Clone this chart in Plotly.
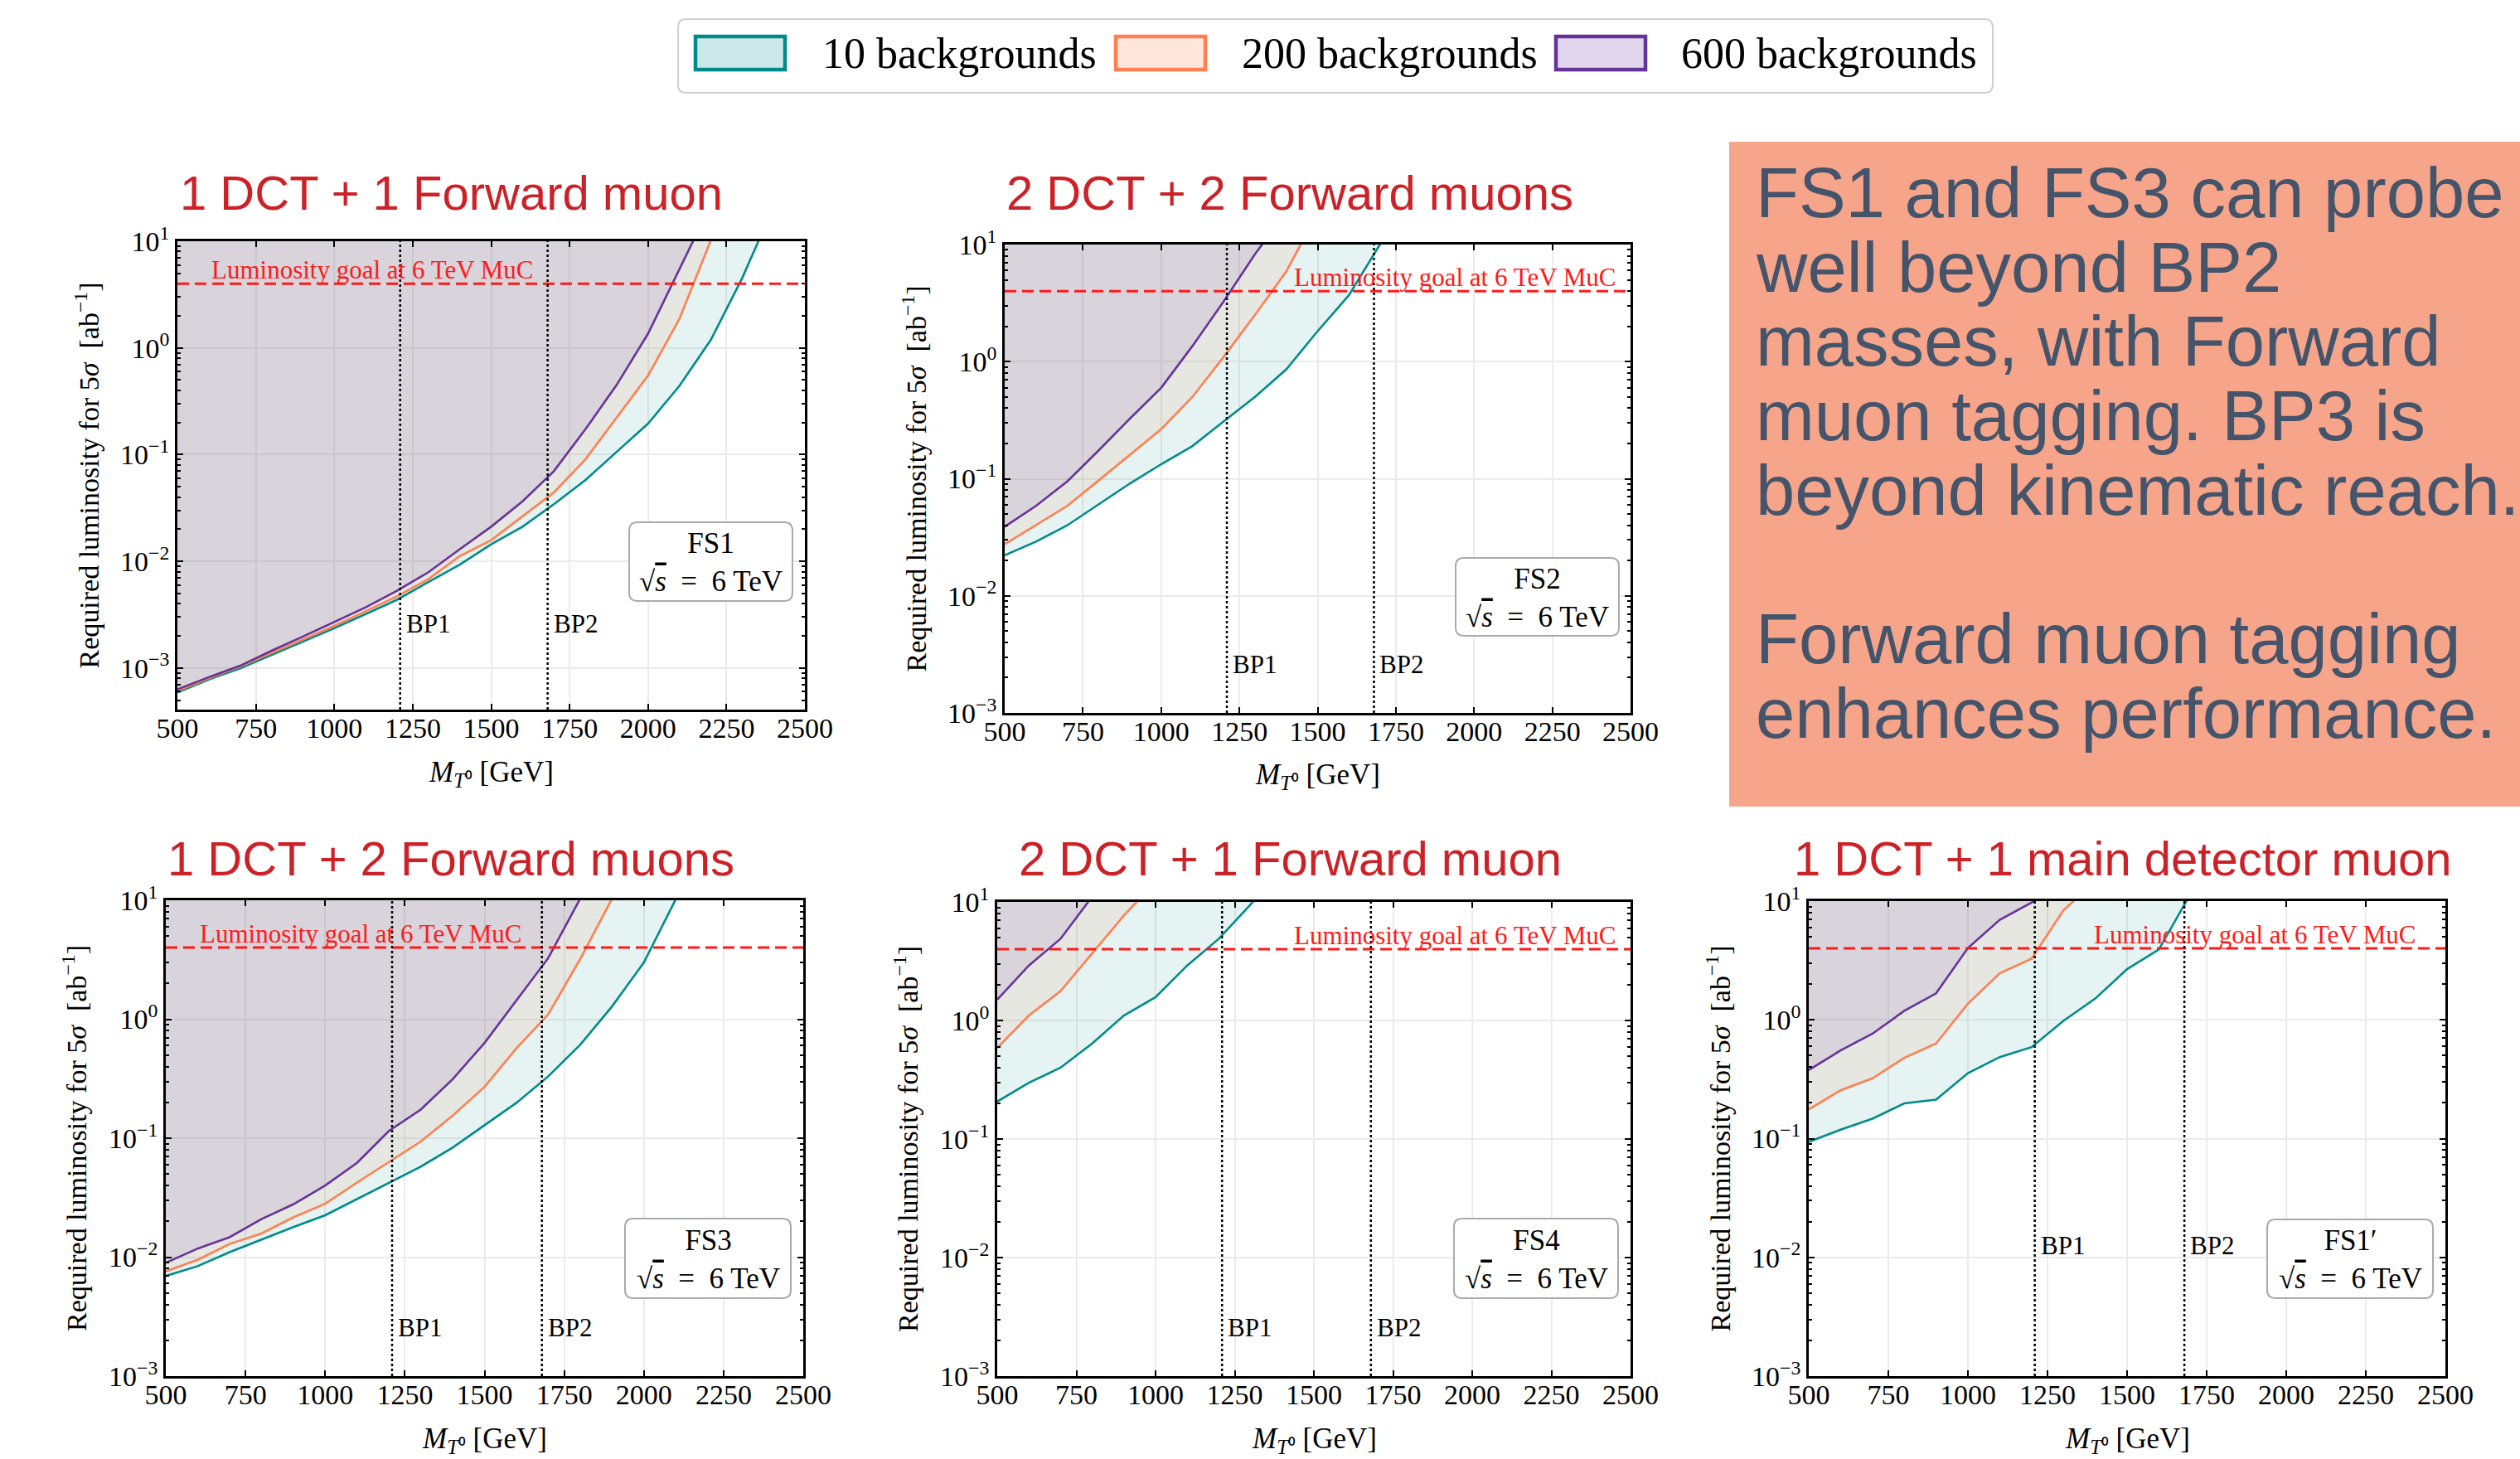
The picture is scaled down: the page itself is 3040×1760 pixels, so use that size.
import math
import plotly.graph_objects as go

W, H = 3040, 1760

# ---------------- data ----------------
SERIES_NAMES = ["10 backgrounds", "200 backgrounds", "600 backgrounds"]

FS1_MASS = [500, 600, 700, 800, 900, 1000, 1100, 1200, 1300, 1400, 1500, 1600, 1700, 1800, 1900, 2000, 2100, 2200, 2300, 2400]
FS1_B10 = [5.9e-4, 7.8e-4, 9.9e-4, 1.32e-3, 1.76e-3, 2.36e-3, 3.2e-3, 4.36e-3, 6.4e-3, 9.3e-3, 0.0144, 0.0211, 0.0343, 0.0575, 0.106, 0.195, 0.44, 1.19, 4.5, 21.0]
FS1_B200 = [6.1e-4, 8.0e-4, 1.03e-3, 1.38e-3, 1.85e-3, 2.48e-3, 3.4e-3, 4.7e-3, 6.8e-3, 0.0112, 0.0158, 0.0265, 0.0443, 0.090, 0.222, 0.55, 1.87, 10.2, 40.0]
FS1_B600 = [6.3e-4, 8.2e-4, 1.05e-3, 1.45e-3, 1.97e-3, 2.68e-3, 3.7e-3, 5.3e-3, 7.9e-3, 0.013, 0.0211, 0.0365, 0.070, 0.172, 0.45, 1.36, 5.4, 22.0]

FS2_MASS = [500, 600, 700, 800, 900, 1000, 1100, 1200, 1300, 1400, 1500, 1600, 1700]
FS2_B10 = [0.0222, 0.029, 0.040, 0.060, 0.091, 0.133, 0.19, 0.309, 0.50, 0.86, 1.82, 3.69, 10.1]
FS2_B200 = [0.0276, 0.040, 0.0586, 0.0966, 0.159, 0.265, 0.50, 1.10, 2.51, 5.9, 18.6]
FS2_B600 = [0.0389, 0.0586, 0.095, 0.174, 0.326, 0.597, 1.36, 3.27, 8.3, 19.0]

FS3_MASS = [500, 600, 700, 800, 900, 1000, 1100, 1200, 1300, 1400, 1500, 1600, 1700, 1800, 1900, 2000, 2100]
FS3_B10 = [6.95e-3, 8.4e-3, 0.011, 0.0141, 0.0179, 0.0225, 0.0307, 0.0424, 0.0576, 0.0834, 0.128, 0.198, 0.331, 0.61, 1.28, 3.0, 10.2]
FS3_B200 = [7.6e-3, 9.5e-3, 0.0129, 0.0158, 0.0216, 0.0281, 0.0424, 0.063, 0.0938, 0.155, 0.27, 0.569, 1.10, 3.2, 10.3]
FS3_B600 = [8.95e-3, 0.0118, 0.0147, 0.0209, 0.0278, 0.040, 0.062, 0.115, 0.174, 0.313, 0.632, 1.44, 3.27, 10.3]

FS4_MASS = [500, 600, 700, 800, 900, 1000, 1100, 1200, 1300, 1400]
FS4_B10 = [0.207, 0.298, 0.40, 0.64, 1.10, 1.57, 2.91, 4.89, 9.5, 19.0]
FS4_B200 = [0.586, 1.10, 1.77, 3.68, 7.67, 14.8]
FS4_B600 = [1.5, 2.91, 4.89, 11.1]

FS1P_MASS = [500, 600, 700, 800, 900, 1000, 1100, 1200, 1300, 1400, 1500, 1600, 1700]
FS1P_B10 = [0.0938, 0.119, 0.147, 0.198, 0.213, 0.356, 0.486, 0.589, 0.98, 1.51, 2.67, 3.91, 11.6]
FS1P_B200 = [0.176, 0.255, 0.322, 0.478, 0.632, 1.37, 2.47, 3.27, 8.38, 14.6]
FS1P_B600 = [0.378, 0.552, 0.764, 1.19, 1.67, 4.03, 6.95, 9.7, 13.6]

PANEL_TITLES = ["1 DCT + 1 Forward muon", "2 DCT + 2 Forward muons", "1 DCT + 2 Forward muons",
                "2 DCT + 1 Forward muon", "1 DCT + 1 main detector muon"]
FS_LABELS = ["FS1", "FS2", "FS3", "FS4", "FS1\u2032"]
BP_MASSES = [1210, 1680]
BP_NAMES = ["BP1", "BP2"]
LUMI_GOAL = 4.0
X_TICKS = [500, 750, 1000, 1250, 1500, 1750, 2000, 2250, 2500]
Y_TICKVALS = [1e-3, 1e-2, 1e-1, 1, 10]
Y_TICKTEXT = ["10<sup>\u22123</sup>", "10<sup>\u22122</sup>", "10<sup>\u22121</sup>", "10<sup>0</sup>", "10<sup>1</sup>"]
TAKEAWAY_LINES = ["FS1 and FS3 can probe", "well beyond BP2", "masses, with Forward",
                  "muon tagging. BP3 is", "beyond kinematic reach.", "",
                  "Forward muon tagging", "enhances performance."]

PANELS = [
    (FS1_MASS, [FS1_B10, FS1_B200, FS1_B600]),
    (FS2_MASS, [FS2_B10, FS2_B200, FS2_B600]),
    (FS3_MASS, [FS3_B10, FS3_B200, FS3_B600]),
    (FS4_MASS, [FS4_B10, FS4_B200, FS4_B600]),
    (FS1P_MASS, [FS1P_B10, FS1P_B200, FS1P_B600]),
]

# ---------------- styling / layout ----------------
LINE_COLORS = ["#008B8B", "#FF7F50", "#663399"]
FILL_RGB = [(0, 139, 139), (255, 127, 80), (102, 51, 153)]
SERIF = "Liberation Serif"
SANS = "Liberation Sans"
TITLE_RED = "#CD2128"
GOAL_RED = "#FF1A1A"
CEIL = 1e4

AXES_PX = [(214, 291, 971, 856), (1212, 295, 1967, 860), (200, 1086, 969, 1660),
           (1203, 1088, 1967, 1660), (2182, 1087, 2950, 1660)]
Y_RANGES = [(-3.39, 1), (-3, 1), (-3, 1), (-3, 1), (-3, 1)]
TITLE_POS = [(544, 232), (1556, 232), (544, 1035), (1556, 1035), (2561, 1035)]
# label anchor position along the mass axis (GeV) and its alignment
LUMI_TXT = [(602, "left"), (2458, "right"), (602, "left"), (2458, "right"), (2411, "right")]
BP_LABEL_Y = [2.6e-3, 2.6e-3, 2.55e-3, 2.55e-3, 1.26e-2]
FS_BOX = [(759, 630, 956, 725), (1756, 673, 1953, 767), (754, 1470, 954, 1566),
          (1754, 1470, 1952, 1566), (2735, 1471, 2935, 1566)]


def px(x):
    return x / W


def py(y):
    return 1 - y / H


def rounded_path(l, t, r, b, rad):
    def P(x, y):
        return f"{px(x):.6f},{py(y):.6f}"
    return (f"M {P(l + rad, t)} L {P(r - rad, t)} Q {P(r, t)} {P(r, t + rad)} "
            f"L {P(r, b - rad)} Q {P(r, b)} {P(r - rad, b)} L {P(l + rad, b)} "
            f"Q {P(l, b)} {P(l, b - rad)} L {P(l, t + rad)} Q {P(l, t)} {P(l + rad, t)} Z")


fig = go.Figure()
shapes = []
annotations = []
layout_axes = {}

minor_vals = [k * 10 ** e for e in range(-4, 2) for k in range(2, 10)]

for i, (mass, series) in enumerate(PANELS):
    n = i + 1
    sfx = "" if n == 1 else str(n)
    xa, ya = "x" + sfx, "y" + sfx
    l, t, r, b = AXES_PX[i]

    # fills (region above each curve)
    for s, vals in enumerate(series):
        m = mass[:len(vals)]
        rr, gg, bb = FILL_RGB[s]
        fig.add_trace(go.Scatter(
            x=list(m) + [m[-1], m[0]], y=list(vals) + [CEIL, CEIL],
            mode="lines", fill="toself", fillcolor=f"rgba({rr},{gg},{bb},0.1)",
            line=dict(width=0), hoverinfo="skip", showlegend=False,
            xaxis=xa, yaxis=ya))
    for s, vals in enumerate(series):
        m = mass[:len(vals)]
        fig.add_trace(go.Scatter(
            x=m, y=vals, mode="lines", line=dict(color=LINE_COLORS[s], width=2.6),
            name=SERIES_NAMES[s], showlegend=False, xaxis=xa, yaxis=ya))

    layout_axes["xaxis" + sfx] = dict(
        domain=[px(l), px(r)], anchor=ya, range=[500, 2500], tickmode="array",
        tickvals=X_TICKS, ticktext=[str(v) for v in X_TICKS], ticks="inside", ticklen=7,
        tickwidth=2, tickcolor="black", showline=True, linewidth=2.6, linecolor="black",
        mirror="ticks", showgrid=True, gridcolor="#EBEBEB", gridwidth=1.5, zeroline=False,
        ticklabelstandoff=-10,
        tickfont=dict(family=SERIF, size=34, color="black"))
    layout_axes["yaxis" + sfx] = dict(
        domain=[py(b), py(t)], anchor=xa, type="log", range=list(Y_RANGES[i]),
        tickmode="array", tickvals=Y_TICKVALS, ticktext=Y_TICKTEXT, ticks="inside",
        ticklen=7, tickwidth=2, tickcolor="black", showline=True, linewidth=2.6,
        linecolor="black", mirror="ticks", showgrid=True, gridcolor="#EBEBEB", gridwidth=1.5,
        zeroline=False, tickfont=dict(family=SERIF, size=34, color="black"),
        minor=dict(tickmode="array", tickvals=minor_vals, ticks="inside", ticklen=4,
                   tickwidth=1.5, tickcolor="black", showgrid=False))

    # luminosity goal line + label
    shapes.append(dict(type="line", xref=xa + " domain", yref=ya, x0=0, x1=1,
                       y0=LUMI_GOAL, y1=LUMI_GOAL,
                       line=dict(color=GOAL_RED, width=3, dash="14px,7px")))
    lx, lanchor = LUMI_TXT[i]
    annotations.append(dict(xref=xa, yref=ya, x=lx, y=math.log10(LUMI_GOAL),
                            text="Luminosity goal at 6 TeV MuC", showarrow=False,
                            xanchor=lanchor, yanchor="bottom", yshift=-3,
                            font=dict(family=SERIF, size=31, color=GOAL_RED)))

    # benchmark points
    for bm, bn in zip(BP_MASSES, BP_NAMES):
        shapes.append(dict(type="line", xref=xa, yref=ya + " domain", x0=bm, x1=bm,
                           y0=0, y1=1, line=dict(color="black", width=2.5, dash="dot")))
        annotations.append(dict(xref=xa, yref=ya, x=bm, y=math.log10(BP_LABEL_Y[i]), text=bn,
                                showarrow=False, xanchor="left", yanchor="middle", xshift=5,
                                font=dict(family=SERIF, size=31, color="black")))

    # FS box
    bl, bt, br, bb2 = FS_BOX[i]
    shapes.append(dict(type="path", xref="paper", yref="paper",
                       path=rounded_path(bl, bt, br, bb2, 10),
                       fillcolor="white", line=dict(color="#AAAAAA", width=2)))
    annotations.append(dict(xref="paper", yref="paper", x=px((bl + br) / 2),
                            y=py((bt + bb2) / 2 + 1),
                            text=FS_LABELS[i] + "<br>\u221A<span style='text-decoration:overline'><i>s</i></span>\u2002=\u20026 TeV",
                            showarrow=False, xanchor="center", yanchor="middle", align="center",
                            font=dict(family=SERIF, size=35, color="black")))

    # panel title
    tx, ty = TITLE_POS[i]
    annotations.append(dict(xref="paper", yref="paper", x=px(tx), y=py(ty),
                            text=PANEL_TITLES[i], showarrow=False,
                            xanchor="center", yanchor="middle",
                            font=dict(family=SANS, size=58, color=TITLE_RED)))

    # axis titles
    annotations.append(dict(xref="paper", yref="paper", x=px(l - 110), y=py((t + b) / 2),
                            text="Required luminosity for 5<i>\u03C3</i>  [ab<sup>\u22121</sup>]",
                            textangle=-90, showarrow=False, xanchor="center", yanchor="middle",
                            font=dict(family=SERIF, size=34, color="black")))
    annotations.append(dict(xref="paper", yref="paper", x=px((l + r) / 2), y=py(b + 77),
                            text="<i>M</i><sub><i>T</i>\u2070</sub> [GeV]",
                            showarrow=False, xanchor="center", yanchor="middle",
                            font=dict(family=SERIF, size=35, color="black")))

# ---------------- legend (drawn manually) ----------------
shapes.append(dict(type="path", xref="paper", yref="paper",
                   path=rounded_path(818, 23, 2404, 112, 10),
                   fillcolor="white", line=dict(color="#D0D0D0", width=2)))
LEG_PATCH_X = [837, 1344, 1875]
LEG_TEXT_X = [990, 1496, 2026]
for s in range(3):
    rr, gg, bb = FILL_RGB[s]
    shapes.append(dict(type="rect", xref="paper", yref="paper",
                       x0=px(LEG_PATCH_X[s] + 2), x1=px(LEG_PATCH_X[s] + 110),
                       y0=py(44), y1=py(84),
                       fillcolor=f"rgba({rr},{gg},{bb},0.2)",
                       line=dict(color=LINE_COLORS[s], width=4.5)))
    annotations.append(dict(xref="paper", yref="paper", x=px(LEG_TEXT_X[s]), y=py(64),
                            text=SERIES_NAMES[s], showarrow=False, xanchor="left",
                            yanchor="middle", font=dict(family=SERIF, size=52, color="black")))

# ---------------- takeaway box ----------------
shapes.append(dict(type="rect", xref="paper", yref="paper", x0=px(2086), x1=1.0,
                   y0=py(973), y1=py(171), fillcolor="#F6A58A", line=dict(width=0),
                   layer="below"))
for k, line in enumerate(TAKEAWAY_LINES):
    if not line:
        continue
    baseline = 262 + k * 89.7
    annotations.append(dict(xref="paper", yref="paper", x=px(2116), y=py(baseline - 29.5),
                            text=line, showarrow=False, xanchor="left", yanchor="middle",
                            font=dict(family=SANS, size=85, color="#44546A")))

fig.update_layout(
    width=W, height=H, margin=dict(l=0, r=0, t=0, b=0, autoexpand=False),
    paper_bgcolor="white", plot_bgcolor="white", showlegend=False,
    shapes=shapes, annotations=annotations, **layout_axes)

fig.write_html("out.html")
